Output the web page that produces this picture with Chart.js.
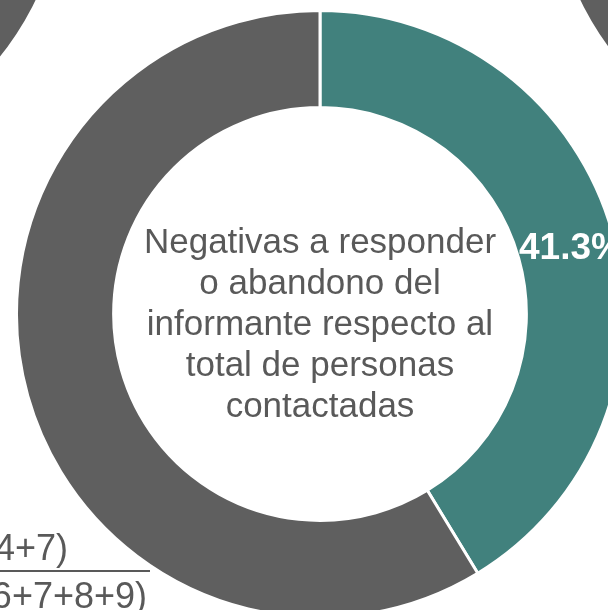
<!DOCTYPE html>
<html>
<head>
<meta charset="utf-8">
<script src="https://cdn.jsdelivr.net/npm/chart.js@4.4.1/dist/chart.umd.min.js"></script>
<style>
	html, body { margin: 0; padding: 0; width: 608px; height: 610px; overflow: hidden; background: #fff; }
	body { position: relative; font-family: "Liberation Sans", Arial, sans-serif; color: #595959; }
	.box { position: absolute; width: 610px; height: 610px; }
	#centerText { position: absolute; left: 120px; top: 220px; width: 400px; text-align: center; font-size: 35px; line-height: 41px; }
	.frac { position: absolute; right: 0; font-size: 36px; line-height: 40px; white-space: nowrap; }
	#fracLine { position: absolute; left: 0; top: 570px; width: 150px; height: 2px; background: #595959; }
</style>
</head>
<body>
<div class="box" id="leftBox" style="left:-541px; top:-437px;"><canvas id="leftChart"></canvas></div>
<div class="box" id="rightBox" style="left:547px; top:-437px;"><canvas id="rightChart"></canvas></div>
<div class="box" id="mainBox" style="left:15px; top:9px;"><canvas id="mainChart"></canvas></div>

<div id="centerText">Negativas a responder<br>o abandono del<br>informante respecto al<br>total de personas<br>contactadas</div>

<div style="position:absolute; left:-400px; width:468px; top:528px; height:40px;"><span class="frac" id="numText">(1+2+3+4+7)</span></div>
<div id="fracLine"></div>
<div style="position:absolute; left:-400px; width:547px; top:576px; height:40px;"><span class="frac" id="denText">(1+2+3+4+5+6+7+8+9)</span></div>

<script>
// Main ring: share of negatives / abandonment vs the rest
let categories = ['Negativas o abandono', 'Resto'];
let mainValues = [41.3, 58.7];
let mainColors = ['#41817d', '#5f5f5f'];
// only the first slice gets its label
let labelShown = [true, false];

// Neighbouring rings, only a grey corner of each shows
let leftValues = [100];
let rightValues = [100];

// Draws the percentage inside a slice
let sliceLabels = {
	id: 'sliceLabels',
	afterDatasetsDraw(chart) {
		let ctx = chart.ctx;
		let meta = chart.getDatasetMeta(0);
		ctx.save();
		ctx.fillStyle = '#ffffff';
		ctx.font = 'bold 37px "Liberation Sans", Arial, sans-serif';
		ctx.textAlign = 'center';
		ctx.textBaseline = 'middle';
		meta.data.forEach((arc, i) => {
			if (!labelShown[i]) return;
			let pos = arc.tooltipPosition();
			ctx.fillText(mainValues[i].toFixed(1) + '%', pos.x + 6, pos.y + 4);
		});
		ctx.restore();
	}
};

function makeRing(id, labels, values, colors, plugins) {
	return new Chart(document.getElementById(id), {
		type: 'doughnut',
		data: {
			labels: labels,
			datasets: [{
				data: values,
				backgroundColor: colors,
				borderColor: '#ffffff',
				borderWidth: 3,
				hoverOffset: 0
			}]
		},
		options: {
			responsive: true,
			maintainAspectRatio: false,
			animation: false,
			cutout: '68%',
			layout: { padding: 0 },
			plugins: {
				legend: { display: false },
				tooltip: { enabled: false }
			}
		},
		plugins: plugins || []
	});
}

makeRing('leftChart', ['Otro'], leftValues, ['#5f5f5f']);
makeRing('rightChart', ['Otro'], rightValues, ['#5f5f5f']);
makeRing('mainChart', categories, mainValues, mainColors, [sliceLabels]);
</script>
</body>
</html>
